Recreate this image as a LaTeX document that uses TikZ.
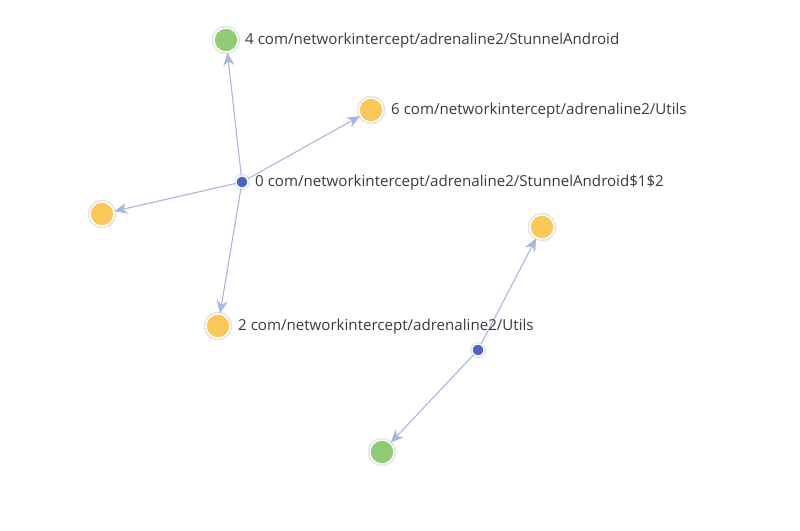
\documentclass[tikz,border=0pt]{standalone}
\usepackage{fontspec}
\setmainfont{Open Sans}
\usetikzlibrary{arrows.meta}
\definecolor{nblue}{HTML}{4B66C0}
\definecolor{ngreen}{HTML}{91CC75}
\definecolor{nyellow}{HTML}{FAC858}
\definecolor{edgec}{HTML}{A9B6E0}
\definecolor{labelc}{HTML}{3A3A3A}
\tikzset{
  big/.style={circle, minimum size=24pt, inner sep=0pt, draw=white, line width=1.3pt},
  small/.style={circle, minimum size=12pt, inner sep=0pt, draw=white, line width=1.3pt, fill=nblue},
  gnode/.style={big, fill=ngreen},
  ynode/.style={big, fill=nyellow},
  lab/.style={anchor=west, font=\fontsize{15.1}{18}\selectfont, text=labelc, inner sep=0pt},
  edge/.style={draw=edgec, line width=1.1pt, -{Stealth[length=13pt,width=11pt,inset=4pt]}, shorten >=0pt}
}
\begin{document}
\begin{tikzpicture}[x=1pt,y=-1pt]
\useasboundingbox (0,0) rectangle (800,530);
% halos
\foreach \p in {(226,40),(371,110),(102,214),(218,326),(542,227),(382,452)}
  \fill[black!10] \p circle (14.2pt);
\foreach \p in {(242,182),(478,350)}
  \fill[black!10] \p circle (8pt);
\node[small] (n0) at (242,182) {};
\node[gnode] (n4) at (226,40) {};
\node[ynode] (n6) at (371,110) {};
\node[ynode] (nl) at (102,214) {};
\node[ynode] (n2) at (218,326) {};
\node[ynode] (nr) at (542,227) {};
\node[small] (b2) at (478,350) {};
\node[gnode] (g2) at (382,452) {};
\draw[edge] (n0) -- (n4);
\draw[edge] (n0) -- (n6);
\draw[edge] (n0) -- (nl);
\draw[edge] (n0) -- (n2);
\draw[edge] (b2) -- (nr);
\draw[edge] (b2) -- (g2);
\node[lab] (t0) at (255,182.5) {0 com/networkintercept/adrenaline2/StunnelAndroid\$1\$2};
\node[lab] (t4) at (245,40.5) {4 com/networkintercept/adrenaline2/StunnelAndroid};
\node[lab] (t6) at (391,110.5) {6 com/networkintercept/adrenaline2/Utils};
\node[lab] (t2) at (238,326.5) {2 com/networkintercept/adrenaline2/Utils};
\end{tikzpicture}
\end{document}
